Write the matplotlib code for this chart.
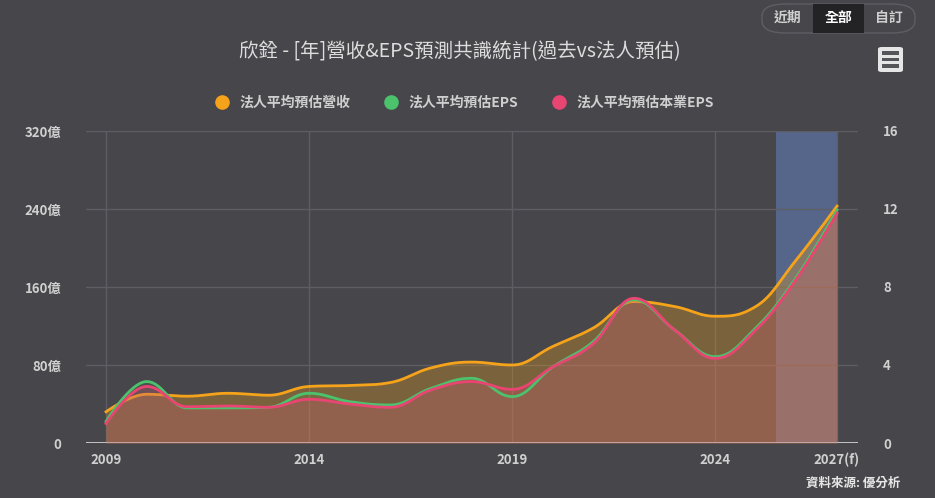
import numpy as np
import matplotlib
matplotlib.use("Agg")
import matplotlib.pyplot as plt
from matplotlib.lines import Line2D
from matplotlib.patches import FancyBboxPatch, Rectangle

plt.rcParams['font.family'] = ['Noto Sans CJK TC', 'DejaVu Sans']

years = list(range(2009, 2028))
revenue = [32, 50, 48, 51, 49, 58, 59, 62, 77, 83, 80, 99, 118, 145, 140, 130, 140, 188, 243]
eps = [1.1, 3.15, 1.8, 1.8, 1.83, 2.55, 2.12, 1.95, 2.8, 3.32, 2.38, 3.9, 5.2, 7.35, 5.8, 4.43, 5.9, 8.5, 11.95]
core_eps = [1.0, 2.9, 1.86, 1.9, 1.83, 2.24, 2.0, 1.83, 2.72, 3.15, 2.75, 3.9, 5.1, 7.42, 5.8, 4.34, 5.8, 8.4, 11.78]
xlabels = ['2009', '2014', '2019', '2024', '2027(f)']
xtick_years = [2009, 2014, 2019, 2024, 2027]
left_ticks = [0, 80, 160, 240, 320]
right_ticks = [0, 4, 8, 12, 16]
band = (2025.5, 2027)

BG = '#46464b'
ORANGE = '#f5a31a'
GREEN = '#4cc26c'
PINK = '#e84573'
TXT = '#d0d0d0'


def spline(xs, ys, n=30):
    # highcharts style areaspline
    xs = np.asarray(xs, float)
    ys = np.asarray(ys, float)
    k = len(xs)
    lc = [(x, y) for x, y in zip(xs, ys)]
    rc = [(x, y) for x, y in zip(xs, ys)]
    s, d = 1.5, 2.5
    for i in range(1, k - 1):
        px, py = xs[i], ys[i]
        lx, ly = xs[i - 1], ys[i - 1]
        nx, ny = xs[i + 1], ys[i + 1]
        lcx, lcy = (s * px + lx) / d, (s * py + ly) / d
        rcx, rcy = (s * px + nx) / d, (s * py + ny) / d
        corr = (rcy - lcy) * (rcx - px) / (rcx - lcx) + py - rcy
        lcy += corr
        rcy += corr
        if lcy > ly and lcy > py:
            lcy = max(ly, py); rcy = 2 * py - lcy
        elif lcy < ly and lcy < py:
            lcy = min(ly, py); rcy = 2 * py - lcy
        if rcy > ny and rcy > py:
            rcy = max(ny, py); lcy = 2 * py - rcy
        elif rcy < ny and rcy < py:
            rcy = min(ny, py); lcy = 2 * py - rcy
        lc[i] = (lcx, lcy)
        rc[i] = (rcx, rcy)
    t = np.linspace(0, 1, n)[:, None]
    out = []
    for i in range(k - 1):
        p0 = np.array([xs[i], ys[i]])
        p1 = np.array(rc[i])
        p2 = np.array(lc[i + 1])
        p3 = np.array([xs[i + 1], ys[i + 1]])
        seg = ((1 - t) ** 3) * p0 + 3 * ((1 - t) ** 2) * t * p1 + 3 * (1 - t) * t ** 2 * p2 + t ** 3 * p3
        out.append(seg if i == 0 else seg[1:])
    out = np.vstack(out)
    return out[:, 0], out[:, 1]


fig = plt.figure(figsize=(9.35, 4.98), dpi=100, facecolor=BG)
W, H = 935, 498
ax = fig.add_axes([86 / W, (H - 443) / H, (858 - 86) / W, (443 - 131) / H])
ax.set_facecolor(BG)
ax2 = ax.twinx()

ax.set_xlim(2008.507, 2027.517)
ax.set_ylim(0, 320)
ax2.set_ylim(0, 16)

ax.axvspan(band[0], band[1], color='#56668a', zorder=0.5, lw=0)

ax.set_yticks(left_ticks)
ax.set_yticklabels(['0'] + ['%d億' % v for v in left_ticks[1:]])
ax2.set_yticks(right_ticks)
ax.set_xticks(xtick_years)
ax.set_xticklabels(xlabels)
ax.grid(True, color='#5d5d63', lw=1, zorder=0)
ax.set_axisbelow(True)
for a in (ax, ax2):
    for sp in a.spines.values():
        sp.set_visible(False)
    a.tick_params(length=0, colors=TXT, labelsize=9.5)
for lab in ax.get_xticklabels() + ax.get_yticklabels() + ax2.get_yticklabels():
    lab.set_fontweight('bold')
ax.tick_params(axis='y', pad=18)
ax.tick_params(axis='x', pad=7)
ax2.tick_params(axis='y', pad=18)
ax.axhline(0, color='#cfcfcf', lw=2, zorder=5)

sx, sy = spline(years, revenue)
ax.fill_between(sx, 0, sy, color=ORANGE, alpha=0.3, lw=0, zorder=2)
ax.plot(sx, sy, color=ORANGE, lw=2, zorder=3)

gx, gy = spline(years, eps)
ax2.fill_between(gx, 0, gy, color=GREEN, alpha=0.1, lw=0, zorder=2)
ax2.plot(gx, gy, color=GREEN, lw=2, zorder=3)
px, py = spline(years, core_eps)
ax2.fill_between(px, 0, py, color=PINK, alpha=0.26, lw=0, zorder=2)
ax2.plot(px, py, color=PINK, lw=2, zorder=4)

fig.text(0.492, 1 - 52 / H, '欣銓 - [年]營收&EPS預測共識統計(過去vs法人預估)', ha='center', va='center',
         color='#dddddd', fontsize=14, fontweight='medium')

handles = [Line2D([], [], marker='o', ls='', color=c, markersize=9.5) for c in (ORANGE, GREEN, PINK)]
fig.legend(handles, ['法人平均預估營收', '法人平均預估EPS', '法人平均預估本業EPS'], loc='center',
           bbox_to_anchor=(461 / W, 1 - 103 / H), ncol=3, frameon=False,
           labelcolor='#cfcfcf', handletextpad=0.3, columnspacing=1.9, prop={'weight': 'bold', 'size': 10})

fig.text(900 / W, 1 - 483 / H, '資料來源: 優分析', ha='right', va='center', color='#e6e6e6',
         fontsize=9, fontweight='bold')

# range buttons
fig.patches.append(FancyBboxPatch((762 / W, 1 - 33 / H), 153 / W, 29 / H, boxstyle='round,pad=0,rounding_size=0.025',
                                  transform=fig.transFigure, facecolor=BG, edgecolor='#5e5e64', lw=1))
fig.patches.append(Rectangle((813 / W, 1 - 33 / H), 51 / W, 29 / H, transform=fig.transFigure,
                             facecolor='#232325', edgecolor='none'))
for x, s, c in [(788, '近期', '#cfcfcf'), (839, '全部', '#ffffff'), (889, '自訂', '#cfcfcf')]:
    fig.text(x / W, 1 - 18 / H, s, ha='center', va='center', color=c, fontsize=10, fontweight='bold')
fig.patches.append(FancyBboxPatch((878 / W, 1 - 72 / H), 25 / W, 25 / H, boxstyle='round,pad=0,rounding_size=0.004',
                                  transform=fig.transFigure, facecolor='#e6e6e6', edgecolor='none'))
for yy in (53, 59.5, 66):
    fig.patches.append(Rectangle((882 / W, 1 - (yy + 1.7) / H), 17 / W, 3.4 / H, transform=fig.transFigure,
                                 facecolor='#55555a', edgecolor='none'))

fig.savefig('out.png', dpi=100, facecolor=BG)
